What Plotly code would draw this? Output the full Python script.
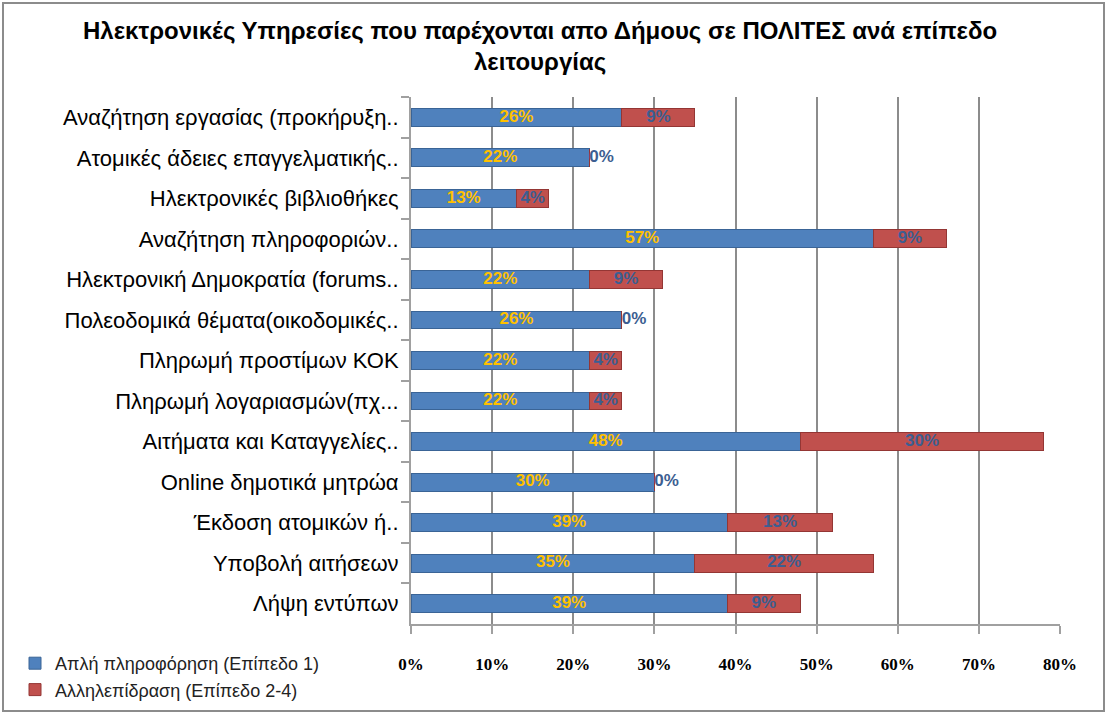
import plotly.graph_objects as go

categories = [
    "Αναζήτηση εργασίας (προκήρυξη..",
    "Ατομικές άδειες επαγγελματικής..",
    "Ηλεκτρονικές βιβλιοθήκες",
    "Αναζήτηση πληροφοριών..",
    "Ηλεκτρονική Δημοκρατία (forums..",
    "Πολεοδομικά θέματα(οικοδομικές..",
    "Πληρωμή προστίμων ΚΟΚ",
    "Πληρωμή λογαριασμών(πχ...",
    "Αιτήματα και Καταγγελίες..",
    "Online δημοτικά μητρώα",
    "Έκδοση ατομικών ή..",
    "Υποβολή αιτήσεων",
    "Λήψη εντύπων",
]
level1 = [26, 22, 13, 57, 22, 26, 22, 22, 48, 30, 39, 35, 39]
level24 = [9, 0, 4, 9, 9, 0, 4, 4, 30, 0, 13, 22, 9]
series_names = ["Απλή πληροφόρηση (Επίπεδο 1)", "Αλληλεπίδραση (Επίπεδο 2-4)"]
x_ticks = [0, 10, 20, 30, 40, 50, 60, 70, 80]
x_tick_labels = [f"{t}%" for t in x_ticks]
title_text = "<b>Ηλεκτρονικές Υπηρεσίες που παρέχονται απο Δήμους σε ΠΟΛΙΤΕΣ ανά επίπεδο<br>λειτουργίας</b>"

BLUE = "#4F81BD"
RED = "#C0504D"

fig = go.Figure()
fig.add_trace(go.Bar(
    y=categories, x=level1, orientation="h", name=series_names[0],
    marker=dict(color=BLUE, line=dict(color="#3A6496", width=1)),
    width=0.44, hoverinfo="x+y",
))
fig.add_trace(go.Bar(
    y=categories, x=level24, orientation="h", name=series_names[1],
    marker=dict(color=RED, line=dict(color="#943634", width=1)),
    width=0.44, hoverinfo="x+y",
))
# data labels
fig.add_trace(go.Scatter(
    y=categories, x=[v / 2 for v in level1], mode="text",
    text=[f"{v}%" for v in level1], showlegend=False,
    textfont=dict(family="Liberation Sans, Arial", size=17, color="#FFC000", weight="bold"),
    hoverinfo="skip",
))
fig.add_trace(go.Scatter(
    y=categories, x=[a + b / 2 + (1.5 if b == 0 else 0) for a, b in zip(level1, level24)],
    mode="text", text=[f"{v}%" for v in level24], showlegend=False,
    textfont=dict(family="Liberation Sans, Arial", size=17, color="#3C5E91", weight="bold"),
    hoverinfo="skip",
))

# plot area in pixels
L, R, T, B = 411, 1060, 97, 624
W, H = R - L, B - T
def px(xp):
    return (xp - L) / W
def py(yp):
    return (B - yp) / H

fig.update_layout(
    width=1108, height=714,
    barmode="stack",
    paper_bgcolor="white", plot_bgcolor="white",
    margin=dict(l=L, r=1108 - R, t=T, b=714 - B, autoexpand=False),
    font=dict(family="Liberation Sans, Arial", color="black"),
    legend=dict(
        x=px(15), y=py(645), xanchor="left", yanchor="top",
        font=dict(family="Liberation Sans, Arial", size=18, color="#222"),
        orientation="v", traceorder="normal", itemwidth=30,
        tracegroupgap=0, bgcolor="rgba(0,0,0,0)",
    ),
)
fig.add_annotation(
    text=title_text, xref="paper", yref="paper",
    x=px(540), y=py(15), xanchor="center", yanchor="top",
    showarrow=False, align="center",
    font=dict(family="Liberation Sans, Arial", size=24, color="black"),
)
fig.update_xaxes(
    range=[0, 80], tickvals=x_ticks, ticktext=x_tick_labels,
    showgrid=True, gridcolor="#8C8C8C", gridwidth=2,
    showline=True, linecolor="#A0A0A0", linewidth=2,
    ticks="outside", ticklen=8, tickcolor="#A0A0A0", tickwidth=2,
    ticklabelstandoff=16,
    tickfont=dict(family="Liberation Serif, Times New Roman", size=17, color="black", weight="bold"),
    zeroline=False,
)
fig.update_yaxes(
    type="category", range=[len(categories) - 0.5, -0.5], autorange=False,
    showline=True, linecolor="#A0A0A0", linewidth=2,
    ticks="outside", ticklen=8, tickcolor="#A0A0A0", tickwidth=2,
    tickson="boundaries", ticklabelstandoff=6,
    tickfont=dict(family="Liberation Sans, Arial", size=22, color="black"),
    showgrid=False,
)
# chart border
fig.add_shape(type="rect", xref="paper", yref="paper",
              x0=px(3), x1=px(1104), y0=py(711), y1=py(3),
              line=dict(color="#8C8C8C", width=2), fillcolor="rgba(0,0,0,0)", layer="below")

fig.write_html("out.html", config={"displayModeBar": False},
               post_script="document.body.style.margin='0';")
